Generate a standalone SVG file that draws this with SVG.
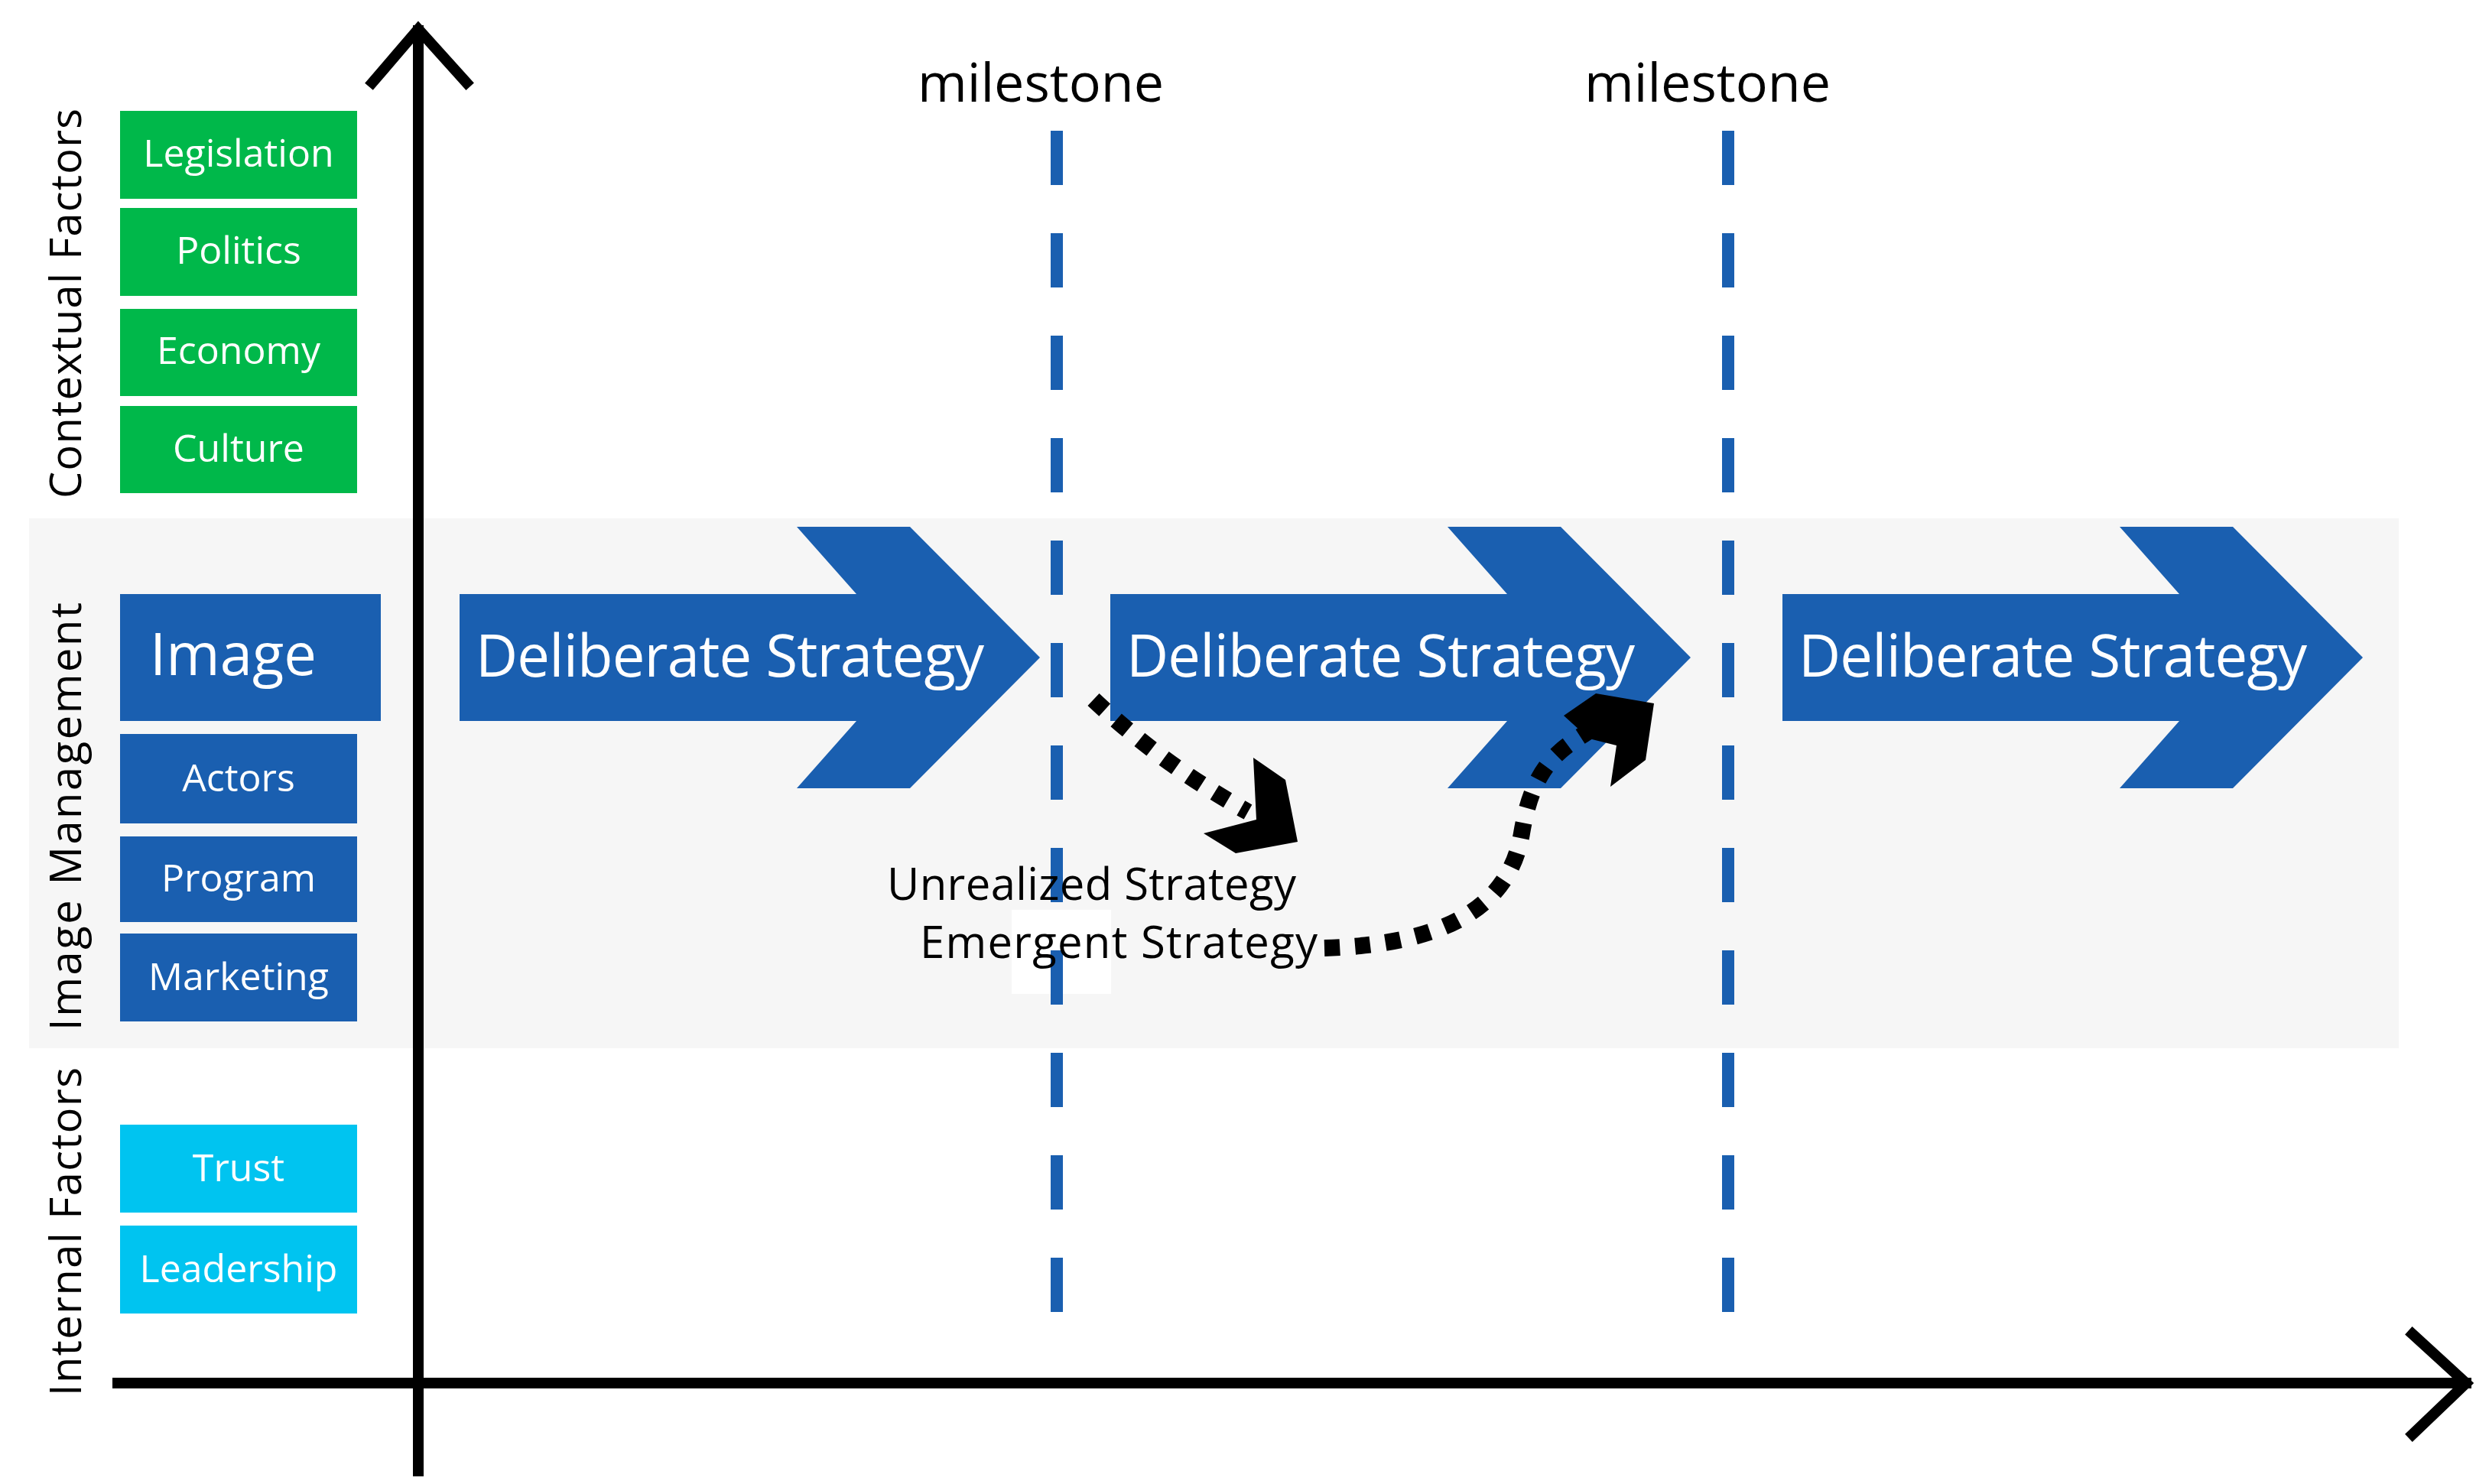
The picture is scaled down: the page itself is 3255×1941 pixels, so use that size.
<svg xmlns="http://www.w3.org/2000/svg" width="3255" height="1941" viewBox="0 0 3255 1941">
<style>
.g{fill:#00b84a}.b{fill:#1a5fb0}.c{fill:#00c4f0}
.t{font-family:"Open Sans","Liberation Sans",sans-serif;fill:#fff;text-anchor:middle}
.ds{font-family:"Open Sans","Liberation Sans",sans-serif;fill:#fff;font-size:76px}
.side{font-family:"Open Sans","Liberation Sans",sans-serif;fill:#000;font-size:56px;text-anchor:middle}
.ms{stroke:#1a5fb0;stroke-width:16;stroke-dasharray:71 63;fill:none}
.ax{stroke:#000;stroke-width:14;fill:none;stroke-linecap:square}
.dot{stroke:#000;stroke-width:22;stroke-dasharray:20 20;fill:none}
</style>
<rect width="3255" height="1941" fill="#fff"/>
<rect x="38" y="678" width="3099" height="693" fill="#f6f6f6"/>
<rect x="1323" y="1190" width="130" height="110" fill="#fff"/>
<g id="milestones">
<line class="ms" x1="1382" y1="171" x2="1382" y2="1778"/>
<line class="ms" x1="2260" y1="171" x2="2260" y2="1743"/>
<text x="1361" y="133" font-family="Open Sans,Liberation Sans,sans-serif" font-size="70" text-anchor="middle">milestone</text>
<text x="2233" y="133" font-family="Open Sans,Liberation Sans,sans-serif" font-size="70" text-anchor="middle">milestone</text>
</g>
<g id="axes">
<line class="ax" x1="547" y1="40" x2="547" y2="1924"/>
<polyline class="ax" points="487,108 547,38 610,108"/>
<line class="ax" x1="154" y1="1809" x2="3225" y2="1809"/>
<polyline class="ax" points="3155,1745 3225,1809 3155,1876"/>
</g>
<g id="labels">
<text class="side" transform="translate(106,397) rotate(-90)" textLength="510">Contextual Factors</text>
<text class="side" transform="translate(106,1068) rotate(-90)" textLength="560">Image Management</text>
<text class="side" transform="translate(106,1611) rotate(-90)" textLength="430">Internal Factors</text>
</g>
<g id="contextual" font-size="50">
<rect class="g" x="157" y="145" width="310" height="115"/><text class="t" x="312" y="218">Legislation</text>
<rect class="g" x="157" y="272" width="310" height="115"/><text class="t" x="312" y="345">Politics</text>
<rect class="g" x="157" y="404" width="310" height="114"/><text class="t" x="312" y="476">Economy</text>
<rect class="g" x="157" y="531" width="310" height="114"/><text class="t" x="312" y="604">Culture</text>
</g>
<g id="image" font-size="50">
<rect class="b" x="157" y="777" width="341" height="166"/><text class="t" x="305" y="883" font-size="76">Image</text>
<rect class="b" x="157" y="960" width="310" height="117"/><text class="t" x="312" y="1035">Actors</text>
<rect class="b" x="157" y="1094" width="310" height="112"/><text class="t" x="312" y="1166">Program</text>
<rect class="b" x="157" y="1221" width="310" height="115"/><text class="t" x="312" y="1295">Marketing</text>
</g>
<g id="internal" font-size="50">
<rect class="c" x="157" y="1471" width="310" height="115"/><text class="t" x="312" y="1545">Trust</text>
<rect class="c" x="157" y="1603" width="310" height="115"/><text class="t" x="312" y="1677">Leadership</text>
</g>
<g id="strategies">
<polygon id="s1" class="b" points="601,777 1120,777 1042,689 1190,689 1360,860 1190,1031 1042,1031 1120,943 601,943"/>
<polygon id="s2" class="b" transform="translate(851,0)" points="601,777 1120,777 1042,689 1190,689 1360,860 1190,1031 1042,1031 1120,943 601,943"/>
<polygon id="s3" class="b" transform="translate(1730,0)" points="601,777 1120,777 1042,689 1190,689 1360,860 1190,1031 1042,1031 1120,943 601,943"/>
<text class="ds" x="622" y="885" textLength="665">Deliberate Strategy</text>
<text class="ds" x="1473" y="885" textLength="665">Deliberate Strategy</text>
<text class="ds" x="2352" y="885" textLength="665">Deliberate Strategy</text>
</g>
<g id="connectors">
<path class="dot" d="M1430,915 Q1520,1000 1632,1062"/>
<polygon points="1639,991 1681,1020 1697,1101 1616,1116 1574,1090 1643,1072"/>
<path class="dot" d="M1732,1240 C1900,1235 1975,1180 1990,1090 S2040,980 2080,955"/>
<polygon points="2045,936 2087,907 2163,920 2152,994 2106,1029 2114,975 2078,966"/>
</g>
<g id="strategy-text" font-family="Open Sans,Liberation Sans,sans-serif" font-size="58">
<text x="1160" y="1177" textLength="535">Unrealized Strategy</text>
<text x="1203" y="1253" textLength="520">Emergent Strategy</text>
</g>
</svg>
